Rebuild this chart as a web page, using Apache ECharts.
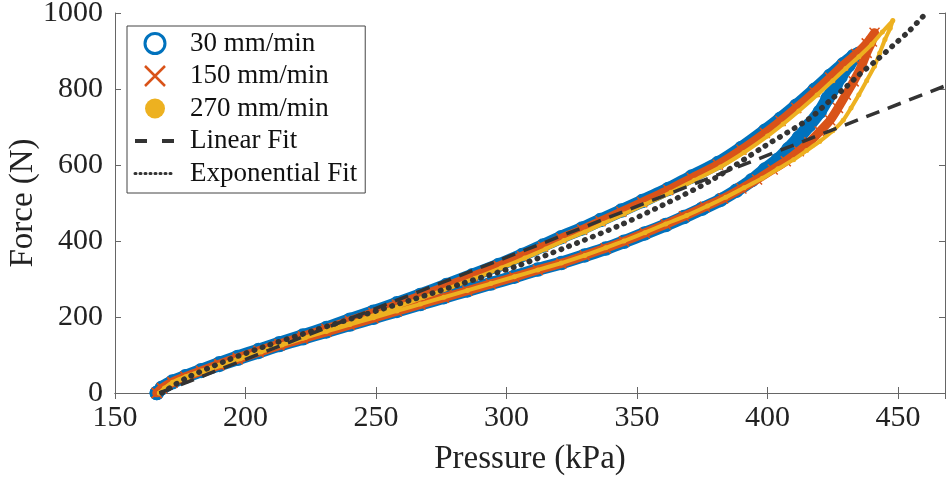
<!DOCTYPE html>
<html>
<head>
<meta charset="utf-8">
<script src="https://cdn.jsdelivr.net/npm/echarts@6/dist/echarts.min.js"></script>
<style>
  html, body { margin: 0; padding: 0; background: #fff; }
  #chart { width: 946px; height: 481px; }
</style>
</head>
<body>
<div id="chart"></div>
<script>
// [pressure kPa, force N], loading branch then unloading branch
const speed30 = [
  [166,0],[168,14],[172,30],[177,44],[183,60],[190,78],[197,95],[205,113],[213,131],[222,151],
  [231,171],[240,193],[249,214],[258,236],[267,258],[277,284],[287,310],[297,337],[306,363],[314,388],
  [321,410],[329,433],[336,455],[344,480],[352,505],[362,537],[371,570],[381,605],[390,645],[399,690],
  [405,722],[411,756],[418,798],[424,835],[429,865],[433,887],[435,893],
  [433,880],[431,862],[428,832],[426,808],[423,775],[420,740],[416,705],[412,672],[408,642],
  [404,614],[399,588],[394,560],[388,532],[382,508],[375,485],[368,463],[361,442],[353,420],[345,398],
  [338,380],[330,362],[321,342],[312,325],[303,306],[294,288],[285,270],[276,252],[267,234],[258,216],
  [249,198],[240,180],[231,162],[222,144],[213,126],[205,108],[197,90],[190,74],[183,58],[177,43],
  [172,28],[168,13],[166,0]
];
const speed150 = [
  [166,0],[168,13],[172,29],[177,43],[183,58],[190,76],[197,93],[205,111],[213,129],[222,149],
  [231,169],[240,190],[249,211],[258,233],[267,255],[277,281],[287,307],[297,334],[306,360],[314,385],
  [321,407],[329,430],[336,452],[344,477],[352,502],[362,534],[371,566],[381,601],[390,640],[399,684],
  [405,716],[411,750],[418,792],[424,830],[429,862],[434,892],[438,920],[441,948],
  [440,925],[438,895],[436,860],[433,820],[430,785],[427,750],[424,718],[420,688],[416,660],
  [412,636],[407,610],[402,588],[396,562],[390,538],[383,512],[376,490],[368,465],[361,444],[353,421],
  [345,399],[338,381],[330,362],[321,341],[312,324],[303,305],[294,287],[285,269],[276,251],[267,233],
  [258,215],[249,197],[240,179],[231,161],[222,143],[213,125],[205,107],[197,89],[190,73],[183,57],
  [177,42],[172,27],[168,12],[166,0]
];
const speed270 = [
  [167,0],[169,12],[173,27],[178,41],[184,56],[191,73],[198,90],[206,108],[214,126],[223,146],
  [232,166],[241,186],[250,207],[259,229],[268,251],[278,276],[288,302],[298,329],[307,355],[315,379],
  [322,401],[330,424],[337,446],[345,471],[353,496],[363,528],[372,560],[382,595],[391,633],[400,676],
  [406,708],[412,742],[419,784],[425,822],[430,854],[435,885],[440,918],[444,950],[448,980],
  [447,960],[445,930],[443,895],[441,860],[438,822],[435,785],[432,750],[429,718],[425,690],
  [420,662],[415,638],[410,614],[404,590],[398,565],[391,540],[384,515],[377,492],[369,467],[361,445],
  [353,422],[345,400],[338,382],[330,362],[321,342],[312,324],[303,306],[294,288],[285,270],[276,252],
  [267,234],[258,216],[249,198],[240,180],[231,162],[222,144],[213,126],[205,108],[197,90],[190,74],
  [183,58],[177,43],[172,28],[169,13],[167,0]
];
const linearFit = [[167,0],[468,808]];
const expFit = [
  [168,0],[177,38],[193,86],[208,124],[226,164],[244,203],[264,246],[283,288],[304,334],[322,381],
  [343,440],[360,495],[378,558],[399,650],[416,722],[424,770],[430,805],[435,837],[442,877],[448,914],
  [454,951],[460,994],[461,1000]
];

const xTicks = {min: 150, max: 468, interval: 50};
const yTicks = {min: 0, max: 1000, interval: 200};

const font = "'Liberation Serif', 'Times New Roman', serif";
const axisColor = "#666";
const fitColor = "#333";
const xPath = "path://M0,0L10,10M10,0L0,10";
const clear = "rgba(0,0,0,0)";

const chart = echarts.init(document.getElementById("chart"));

const axisBase = {
    type: "value",
    axisLine: {show: true, lineStyle: {color: axisColor, width: 1}},
    axisTick: {show: true, inside: true, length: 6, lineStyle: {color: axisColor}},
    splitLine: {show: false}
};

// thick band under each marker series, the dense markers in the figure merge into one
const band = (data, color, width, z) => ({
    type: "line",
    data: data,
    silent: true,
    symbol: "none",
    smooth: 0.2,
    color: color,
    lineStyle: {color: color, width: width, cap: "round", join: "round", opacity: 1},
    z: z
});

chart.setOption({
    animation: false,
    grid: {left: 115, right: 1, top: 13, bottom: 88, outerBoundsMode: "none", containLabel: false},
    legend: {
        orient: "vertical",
        left: 127,
        top: 26,
        padding: [4, 8, 6, 6],
        itemWidth: 40,
        itemHeight: 20,
        itemGap: 5.5,
        backgroundColor: "#fff",
        borderColor: "#444",
        borderWidth: 1,
        z: 20,
        textStyle: {fontFamily: font, fontSize: 27, color: "#111", lineHeight: 27, padding: [0, 0, 0, 10]},
        data: [
            {name: "30 mm/min", icon: "circle", itemStyle: {color: "#fff", borderColor: "#0072BD", borderWidth: 3}},
            {name: "150 mm/min", icon: xPath, itemStyle: {color: clear, borderColor: "#D95319", borderWidth: 2.5}},
            {name: "270 mm/min", icon: "circle", itemStyle: {color: "#EDB120", borderWidth: 0}},
            {name: "Linear Fit", lineStyle: {type: [12, 15], width: 4, color: fitColor},
                itemStyle: {color: clear, borderWidth: 0, opacity: 0}},
            {name: "Exponential Fit", lineStyle: {type: [1, 4], width: 3, cap: "round", color: fitColor},
                itemStyle: {color: clear, borderWidth: 0, opacity: 0}}
        ]
    },
    xAxis: [
        Object.assign({}, axisBase, xTicks, {
            position: "bottom",
            name: "Pressure (kPa)",
            nameLocation: "middle",
            nameGap: 50,
            nameMoveOverlap: false,
            nameTextStyle: {fontFamily: font, fontSize: 33, color: "#222"},
            axisLabel: {fontFamily: font, fontSize: 30, color: "#222", margin: 10, showMaxLabel: false,
                formatter: v => String(v)}
        }),
        Object.assign({}, axisBase, xTicks, {position: "top", axisLabel: {show: false}})
    ],
    yAxis: [
        Object.assign({}, axisBase, yTicks, {
            position: "left",
            name: "Force (N)",
            nameLocation: "middle",
            nameGap: 75,
            nameMoveOverlap: false,
            nameTextStyle: {fontFamily: font, fontSize: 33, color: "#222"},
            axisLabel: {fontFamily: font, fontSize: 30, color: "#222", margin: 12,
                formatter: v => String(v)}
        }),
        Object.assign({}, axisBase, yTicks, {position: "right", axisLabel: {show: false}})
    ],
    series: [
        band(speed30, "#0072BD", 13, 1),
        {
            name: "30 mm/min",
            type: "scatter",
            data: speed30,
            symbol: "circle",
            symbolSize: 13,
            itemStyle: {color: clear, borderColor: "#0072BD", borderWidth: 1.5, opacity: 1},
            z: 2
        },
        band(speed150, "#D95319", 9, 3),
        {
            name: "150 mm/min",
            type: "scatter",
            data: speed150,
            symbol: xPath,
            symbolSize: 10,
            itemStyle: {color: clear, borderColor: "#D95319", borderWidth: 1.5, opacity: 1},
            z: 4
        },
        band(speed270, "#EDB120", 4, 5),
        {
            name: "270 mm/min",
            type: "scatter",
            data: speed270,
            symbol: "circle",
            symbolSize: 5,
            itemStyle: {color: "#EDB120", opacity: 1},
            z: 6
        },
        {
            name: "Linear Fit",
            type: "line",
            data: linearFit,
            symbol: "none",
            color: fitColor,
            lineStyle: {color: fitColor, width: 3.5, type: [14, 9]},
            z: 7
        },
        {
            name: "Exponential Fit",
            type: "line",
            data: expFit,
            symbol: "none",
            smooth: 0.3,
            color: fitColor,
            lineStyle: {color: fitColor, width: 5.5, type: [0.5, 8], cap: "round"},
            z: 7
        }
    ]
});
</script>
</body>
</html>
